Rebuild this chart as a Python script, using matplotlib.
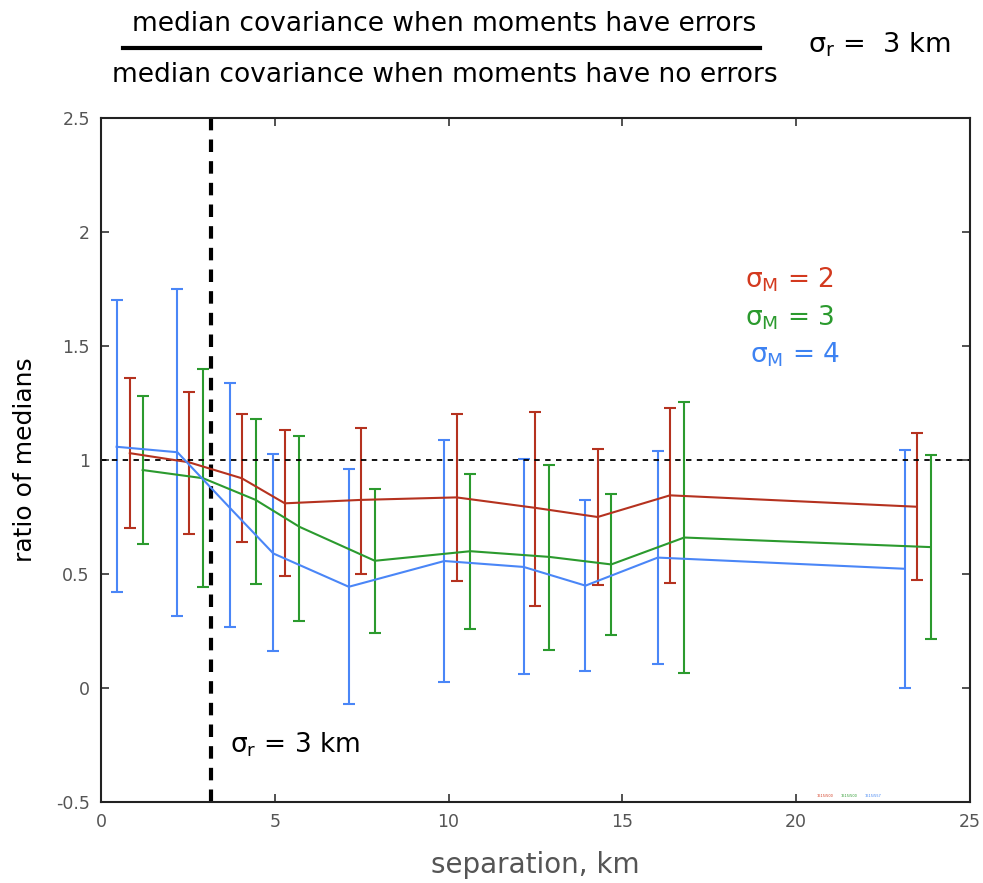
import matplotlib
matplotlib.use("Agg")
import matplotlib.pyplot as plt
from matplotlib.lines import Line2D

plt.rcParams['font.family'] = ['DejaVu Sans']
plt.rcParams['mathtext.default'] = 'regular'

# sigma_M = 2 (red)
x_red = [0.83, 2.53, 4.05, 5.29, 7.48, 10.23, 12.50, 14.29, 16.37, 23.47]
y_red = [1.03, 0.99, 0.92, 0.81, 0.825, 0.836, 0.79, 0.75, 0.845, 0.795]
hi_red = [1.36, 1.30, 1.20, 1.13, 1.14, 1.20, 1.21, 1.05, 1.23, 1.117]
lo_red = [0.70, 0.675, 0.64, 0.49, 0.50, 0.47, 0.36, 0.45, 0.46, 0.474]

# sigma_M = 3 (green)
x_grn = [1.20, 2.94, 4.45, 5.71, 7.88, 10.63, 12.90, 14.68, 16.78, 23.87]
y_grn = [0.956, 0.92, 0.825, 0.707, 0.558, 0.60, 0.575, 0.542, 0.66, 0.618]
hi_grn = [1.28, 1.40, 1.18, 1.107, 0.871, 0.94, 0.977, 0.852, 1.253, 1.022]
lo_grn = [0.63, 0.444, 0.455, 0.294, 0.243, 0.259, 0.168, 0.231, 0.066, 0.213]

# sigma_M = 4 (blue)
x_blu = [0.45, 2.20, 3.71, 4.96, 7.13, 9.88, 12.16, 13.94, 16.02, 23.12]
y_blu = [1.058, 1.034, 0.79, 0.59, 0.444, 0.557, 0.531, 0.449, 0.572, 0.523]
hi_blu = [1.70, 1.75, 1.338, 1.026, 0.96, 1.088, 1.003, 0.823, 1.038, 1.044]
lo_blu = [0.42, 0.317, 0.269, 0.164, -0.072, 0.028, 0.06, 0.073, 0.107, 0.001]

sigma_r = 3.16
x_ticks = [0, 5, 10, 15, 20, 25]
y_ticks = [-0.5, 0, 0.5, 1, 1.5, 2, 2.5]
y_tick_labels = ['-0.5', '0', '0.5', '1', '1.5', '2', '2.5']

series = [
    (x_red, y_red, hi_red, lo_red, '#b5321f', '#d33a1f', r'$\sigma_M$ = 2', '1615/500'),
    (x_grn, y_grn, hi_grn, lo_grn, '#2b9a2e', '#2b9a2e', r'$\sigma_M$ = 3', '1615/500'),
    (x_blu, y_blu, hi_blu, lo_blu, '#4a86f7', '#3d82f2', r'$\sigma_M$ = 4', '1615/557'),
]

fig = plt.figure(figsize=(9.83, 8.83), dpi=100)
ax = fig.add_axes([0.1027, 0.0917, 0.884, 0.7747])

for i, (xs, ys, hi, lo, c, tc, lab, tag) in enumerate(series):
    err = [[y - l for y, l in zip(ys, lo)], [h - y for y, h in zip(ys, hi)]]
    ax.errorbar(xs, ys, yerr=err, color=c, lw=1.5, elinewidth=1.5,
                capsize=4.5, capthick=1.5)
    ax.text(0.741 + (0.006 if i == 2 else 0), 0.763 - i * 0.0545, lab,
            transform=ax.transAxes, color=tc, fontsize=19, va='center')
    ax.text(20.6 + i * 0.68, -0.478, tag, color=tc, fontsize=2.5)

ax.axhline(1, color='black', ls=(0, (3, 3)), lw=1.3)
ax.axvline(sigma_r, color='black', ls=(0, (3, 2.2)), lw=3)
ax.text(3.7, -0.25, r'$\sigma_r$ = 3 km', fontsize=19, color='black',
        va='center')

ax.set_xlim(0, 25)
ax.set_ylim(-0.5, 2.5)
ax.set_xticks(x_ticks)
ax.set_yticks(y_ticks)
ax.set_yticklabels(y_tick_labels)
ax.tick_params(direction='in', length=6, width=1.2, top=True, right=True,
               labelsize=12.5, colors='#333333', labelcolor='#555555', pad=8)
for s in ax.spines.values():
    s.set_linewidth(1.5)
    s.set_color('#222222')

ax.set_xlabel('separation, km', fontsize=20, color='#555555', labelpad=14)
ax.set_ylabel('ratio of medians', fontsize=18, color='black', labelpad=14)

# header: fraction and sigma_r note
fig.text(0.452, 0.965, 'median covariance when moments have errors',
         ha='center', va='baseline', fontsize=19)
fig.lines.append(Line2D([0.1251, 0.7731], [0.9456, 0.9456], color='black',
                        lw=3, transform=fig.transFigure))
fig.text(0.452, 0.907, 'median covariance when moments have no errors',
         ha='center', va='baseline', fontsize=19)
fig.text(0.822, 0.949, r'$\sigma_r$ =  3 km',
         ha='left', va='center', fontsize=19.5)

fig.savefig('out.png', dpi=100)
